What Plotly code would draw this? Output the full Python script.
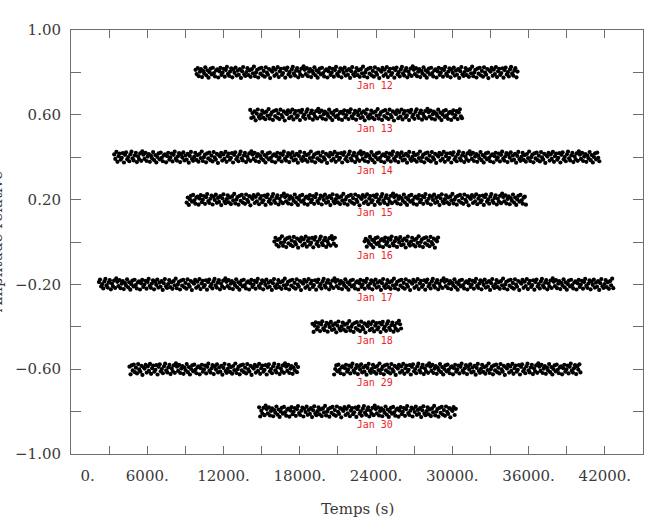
import numpy as np
import plotly.graph_objects as go

# ---- data ----
night_labels = ["Jan 12", "Jan 13", "Jan 14", "Jan 15", "Jan 16",
                "Jan 17", "Jan 18", "Jan 29", "Jan 30"]
night_levels = [0.80, 0.60, 0.40, 0.20, 0.00, -0.20, -0.40, -0.60, -0.80]
# observing segments (start, end) in seconds for each night
night_segments = [
    [(9800, 35200)],
    [(14100, 30800)],
    [(3400, 41600)],
    [(9100, 35800)],
    [(16000, 20900), (23100, 28900)],
    [(2200, 42700)],
    [(19000, 26000)],
    [(4600, 17900), (20700, 40100)],
    [(14800, 30300)],
]
sample_step = 85  # seconds between points (estimated from dot density)
# scatter of the points around each night's level (x 0.001), estimated
scatter_milli = [12, -8, 20, -18, 3, 15, -22, 7, -5, 24, -14, 10, -25, 1, 18,
                 -10, 22, -3, -19, 9, 14, -24, 5, 21, -12, -1, 17, -20, 11, 26,
                 -7, -16, 4, 19, -23, 13, -2, 23, -15, 8, -11, 16, -26, 6, 25,
                 -9, -17, 2, 20, -13, 10, -21, 15, -4, 27, -18, 0, 12, -24, 18,
                 -6, 22, -14, 7, -20, 24, -1, -11, 16, -27, 9, 3, 21, -16, 13,
                 -8, 25, -22, 5, 17, -12, -3, 19, -25, 11, 23, -10, 1, -19, 14,
                 26, -5, -15, 8, 20, -23, 4, -9, 18, -17, 28]
label_time = 23900
label_drop = 0.067

NB = "\u00a0"
x_tick_vals = list(range(0, 45001, 3000))
x_tick_text = [NB * 7 + "0.", "", "6000.", "", "12000.", "", "18000.", "", "24000.", "",
               "30000.", "", "36000.", "", "42000.", ""]
y_tick_vals = [1.0, 0.8, 0.6, 0.4, 0.2, 0.0, -0.2, -0.4, -0.6, -0.8, -1.0]
y_tick_text = ["1.00", "", "0.60", "", "0.20", "", "\u22120.20", "", "\u22120.60", "", "\u22121.00"]

# ---- build figure ----
fig = go.Figure()
noise = np.array(scatter_milli) / 1000.0
for i, (lab, lev, segs) in enumerate(zip(night_labels, night_levels, night_segments)):
    xs, ys = [], []
    k = i * 37
    for (a, b) in segs:
        t = np.arange(a, b + 1, sample_step)
        for tt in t:
            xs.append(tt)
            ys.append(lev + noise[k % len(noise)])
            k += 1
    fig.add_trace(go.Scatter(x=xs, y=ys, mode="markers",
                             marker=dict(size=4.2, color="black", line=dict(width=0)),
                             showlegend=False, hoverinfo="skip"))

fig.add_trace(go.Scatter(
    x=[label_time] * len(night_labels),
    y=[lv - label_drop for lv in night_levels],
    mode="text", text=night_labels,
    textfont=dict(family="DejaVu Sans Mono", size=10, color="#e8262a"),
    showlegend=False, hoverinfo="skip"))

axis_common = dict(showgrid=False, zeroline=False, showline=True, linecolor="#6e6e6e",
                   linewidth=1, mirror="ticks", ticks="inside", tickcolor="#6e6e6e",
                   tickfont=dict(family="DejaVu Serif", size=15, color="#3a3a3a"))

fig.update_xaxes(range=[0, 45000], tickmode="array", tickvals=x_tick_vals,
                 ticktext=x_tick_text, ticklen=8, ticklabelstandoff=8, **axis_common)
fig.update_yaxes(range=[-1.0, 1.0], tickmode="array", tickvals=y_tick_vals,
                 ticktext=y_tick_text, ticklen=10, ticklabelstandoff=6, **axis_common)

fig.add_annotation(text="Temps (s)", xref="paper", yref="paper", x=0.5, y=-0.13,
                   xanchor="center", yanchor="middle", showarrow=False,
                   font=dict(family="DejaVu Serif", size=15, color="#3a3a3a"))
fig.add_annotation(text="Amplitude relative", xref="paper", yref="paper", x=0, y=0.5,
                   xanchor="center", yanchor="middle", textangle=-90, xshift=-74,
                   showarrow=False,
                   font=dict(family="DejaVu Serif", size=15, color="#3a3a3a"))

fig.update_layout(width=647, height=528, margin=dict(l=71, r=4, t=30, b=74),
                  plot_bgcolor="white", paper_bgcolor="white")

fig.write_html("out.html")
